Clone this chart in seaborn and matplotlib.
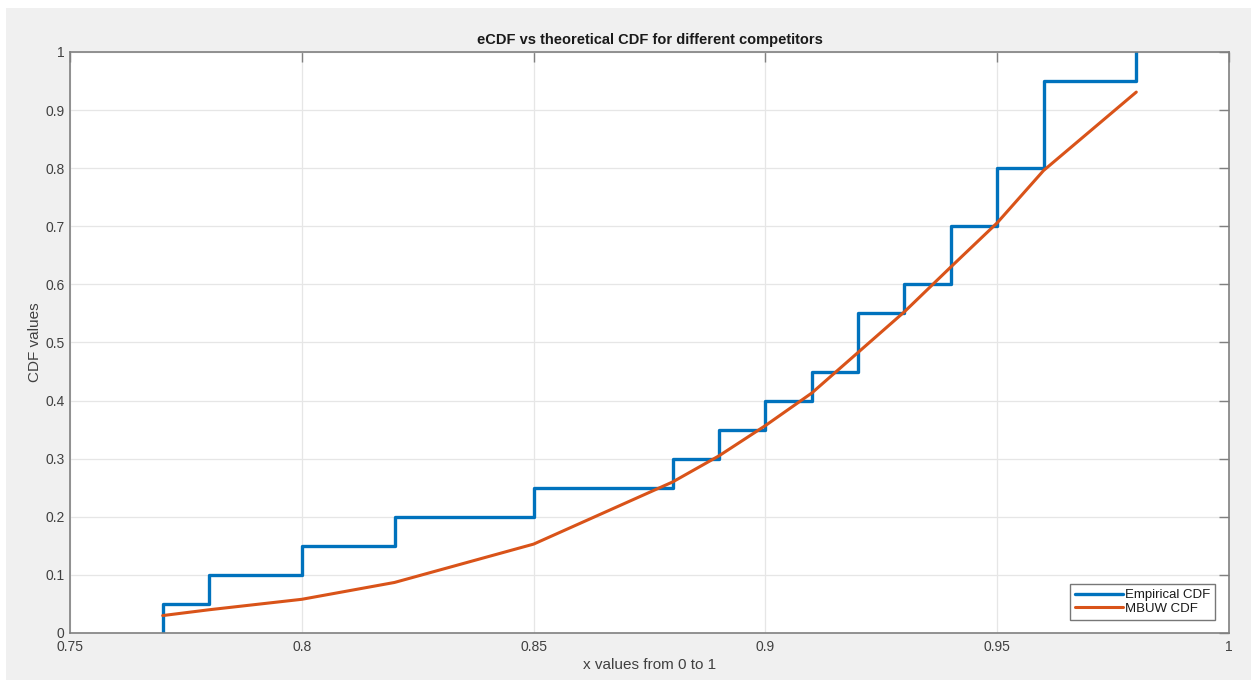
import numpy as np
import pandas as pd
import matplotlib
matplotlib.use('Agg')
import matplotlib.pyplot as plt
from matplotlib.patches import Rectangle
import seaborn as sns

# --- data ---
samples = [0.77, 0.78, 0.80, 0.82, 0.85, 0.88, 0.89, 0.90, 0.91, 0.92, 0.92,
           0.93, 0.94, 0.94, 0.95, 0.95, 0.96, 0.96, 0.96, 0.98]
theory_x = [0.77, 0.78, 0.80, 0.82, 0.85, 0.88, 0.89, 0.90, 0.91, 0.92,
            0.93, 0.94, 0.95, 0.96, 0.98]
theory_cdf = [0.03, 0.04, 0.058, 0.087, 0.153, 0.26, 0.305, 0.357, 0.413,
              0.483, 0.553, 0.63, 0.706, 0.796, 0.931]
x_ticks = [0.75, 0.8, 0.85, 0.9, 0.95, 1.0]
x_ticklabels = ['0.75', '0.8', '0.85', '0.9', '0.95', '1']
y_ticks = [0, 0.1, 0.2, 0.3, 0.4, 0.5, 0.6, 0.7, 0.8, 0.9, 1.0]
y_ticklabels = ['0', '0.1', '0.2', '0.3', '0.4', '0.5', '0.6', '0.7', '0.8', '0.9', '1']

# empirical CDF from the samples
xs = np.sort(np.array(samples))
ux, counts = np.unique(xs, return_counts=True)
ecdf_y = np.cumsum(counts) / len(xs)
ecdf = pd.DataFrame({'x': np.r_[ux[0], ux], 'y': np.r_[0.0, ecdf_y]})
theo = pd.DataFrame({'x': theory_x, 'y': theory_cdf})

sns.set_style('white')
plt.rcParams['font.family'] = ['Liberation Sans', 'DejaVu Sans']

blue = '#0072BD'
orange = '#D95319'
spine_col = '#808080'
text_col = '#404040'

fig = plt.figure(figsize=(12.51, 6.83), dpi=100, facecolor='white')
fig.patches.append(Rectangle((6 / 1251, 3 / 683), 1, 1 - 11 / 683,
                             transform=fig.transFigure, facecolor='#f0f0f0',
                             edgecolor='none', zorder=-10))
ax = fig.add_axes([70 / 1251, 50 / 683, (1229 - 70) / 1251, (633 - 52) / 683])
ax.set_facecolor('white')

sns.lineplot(data=ecdf, x='x', y='y', ax=ax, estimator=None, color=blue,
             linewidth=2.4, drawstyle='steps-post', label='Empirical CDF')
sns.lineplot(data=theo, x='x', y='y', ax=ax, estimator=None, color=orange,
             linewidth=2.2, label='MBUW CDF')

ax.set_xlim(0.75, 1.0)
ax.set_ylim(0, 1)
ax.set_xticks(x_ticks)
ax.set_xticklabels(x_ticklabels)
ax.set_yticks(y_ticks)
ax.set_yticklabels(y_ticklabels)

ax.grid(True, color='#e6e6e6', linewidth=0.9)
ax.set_axisbelow(True)
for s in ax.spines.values():
    s.set_visible(True)
    s.set_color(spine_col)
    s.set_linewidth(1.2)
ax.tick_params(axis='both', which='both', direction='in', length=7, width=1,
               color=spine_col, labelcolor=text_col, labelsize=10,
               top=True, right=True)
ax.tick_params(axis='x', pad=5)
ax.tick_params(axis='y', pad=4)

ax.set_title('eCDF vs theoretical CDF for different competitors',
             fontsize=10.5, fontweight='bold', color='#1a1a1a', pad=6)
ax.set_xlabel('x values from 0 to 1', fontsize=11, color=text_col, labelpad=3)
ax.set_ylabel('CDF values', fontsize=11, color=text_col, labelpad=2)

leg = ax.legend(loc='lower right', fontsize=9.5, handlelength=3.6,
                handletextpad=0.15, borderpad=0.4, labelspacing=0.1,
                borderaxespad=0, fancybox=False, framealpha=1,
                edgecolor='#777777', bbox_to_anchor=(0.988, 0.022))
leg.get_frame().set_linewidth(1.0)
for t in leg.get_texts():
    t.set_color('#1a1a1a')

fig.savefig('out.png', dpi=100, facecolor=fig.get_facecolor())
